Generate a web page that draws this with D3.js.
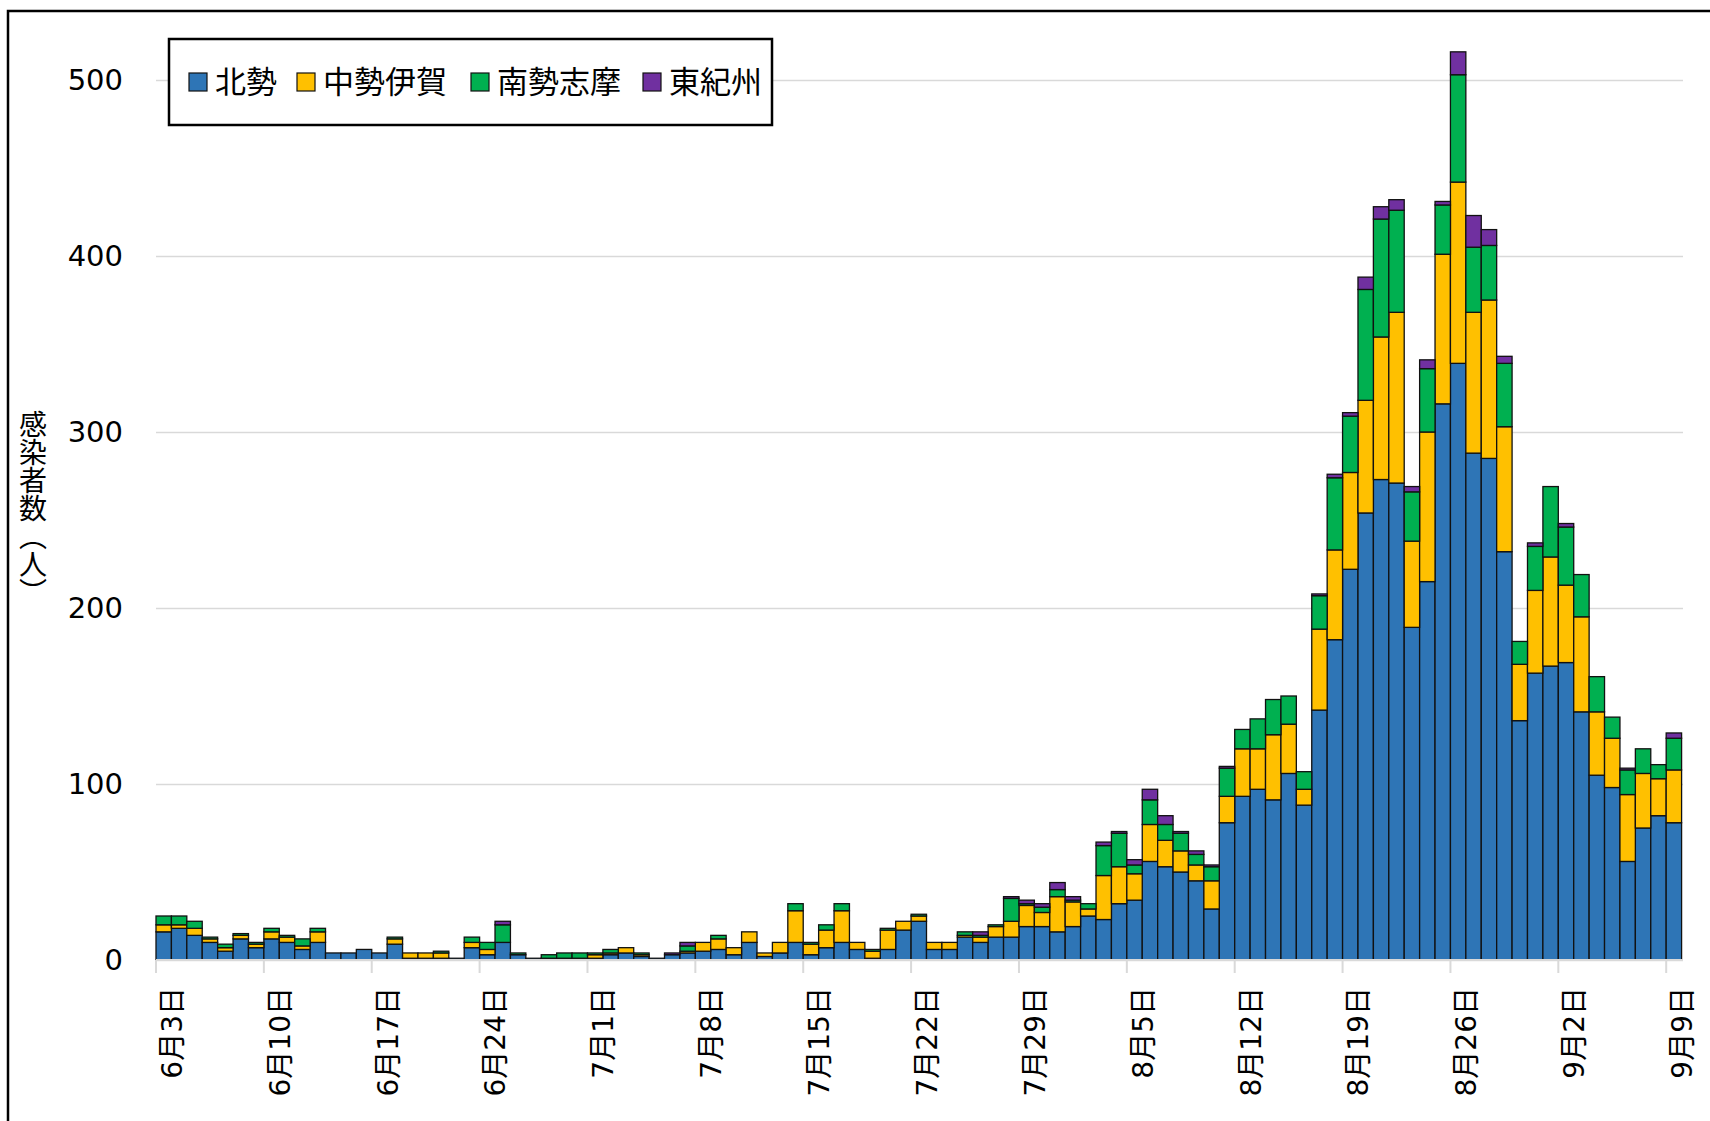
<!DOCTYPE html>
<head>
  <meta charset="utf-8">
  <script src="https://d3js.org/d3.v7.min.js"></script>
  <style>
    body { margin:0; background:#fff; }
    text { font-family: "DejaVu Sans", "Noto Sans CJK JP", sans-serif; fill:#000; }
    .grid line { stroke:#d9d9d9; stroke-width:1.5px; }
  </style>
</head>

<body>
  <script>
    // daily new cases per region, Jun 3 .. Sep 9
    var hokusei = [16,18,14,10,5,12,7,12,10,6,10,4,4,6,4,9,1,1,1,1,7,3,10,3,1,1,1,0,
                   1,3,4,2,1,3,4,5,6,3,10,2,4,10,3,7,10,6,1,6,17,22,6,6,13,10,13,13,19,19,16,
                   19,25,23,32,34,56,53,50,45,29,78,93,97,91,106,88,142,182,222,254,273,271,189,215,316,339,288,285,232,136,163,
                   167,169,141,105,98,56,75,82,78];
    var chusei = [4,2,4,2,2,2,2,4,3,2,6,0,0,0,0,3,3,3,3,0,3,3,0,0,0,0,0,1,
                  2,1,3,1,0,0,1,5,6,4,6,2,6,18,6,10,18,4,4,11,5,3,4,4,1,3,6,9,12,8,20,
                  14,4,25,21,15,21,15,12,9,16,15,27,23,37,28,9,46,51,55,64,81,97,49,85,85,103,80,90,71,32,47,
                  62,44,54,36,28,38,31,21,30];
    var nansei = [5,5,4,1,2,1,1,2,1,4,2,0,0,0,0,1,0,0,1,0,3,4,10,1,0,2,3,3,
                  1,2,0,1,0,0,3,0,2,0,0,0,0,4,1,3,4,0,1,1,0,1,0,0,2,1,1,13,1,3,4,
                  1,3,17,19,5,14,9,10,6,8,16,11,17,20,16,10,19,41,32,63,67,58,28,36,28,61,37,31,36,13,25,
                  40,33,24,20,12,14,14,8,18];
    var higashi = [0,0,0,0,0,0,0,0,0,0,0,0,0,0,0,0,0,0,0,0,0,0,2,0,0,0,0,0,
                   0,0,0,0,0,1,2,0,0,0,0,0,0,0,0,0,0,0,0,0,0,0,0,0,0,2,0,1,2,2,4,
                   2,0,2,1,3,6,5,1,2,1,1,0,0,0,0,0,1,2,2,7,7,6,3,5,2,13,18,9,4,0,2,
                   0,2,0,0,0,1,0,0,3];

    var seriesNames = ["北勢", "中勢伊賀", "南勢志摩", "東紀州"];
    var seriesColors = ["#2e75b6", "#ffc000", "#00b050", "#7030a0"];
    var yTicks = [0, 100, 200, 300, 400, 500];
    var tickLabels = ["6月3日","6月10日","6月17日","6月24日","7月1日","7月8日","7月15日",
                      "7月22日","7月29日","8月5日","8月12日","8月19日","8月26日","9月2日","9月9日"];

    var days = d3.timeDay.range(new Date(2021, 5, 3), new Date(2021, 8, 10));

    var rows = days.map(function(d, i) {
      return { i: i, "北勢": hokusei[i], "中勢伊賀": chusei[i], "南勢志摩": nansei[i], "東紀州": higashi[i] };
    });

    var W = 1710, H = 1121;
    var svg = d3.select("body").append("svg")
        .attr("width", W)
        .attr("height", H);

    svg.append("rect").attr("width", W).attr("height", H).attr("fill", "#fff");

    // outer frame (only top/left visible)
    svg.append("rect")
        .attr("x", 8).attr("y", 11)
        .attr("width", W + 10).attr("height", H + 10)
        .attr("fill", "none").attr("stroke", "#000").attr("stroke-width", 2.5);

    var x = d3.scaleBand()
        .domain(d3.range(days.length))
        .range([156, 156 + 15.41 * days.length])
        .padding(0);

    var y = d3.scaleLinear().domain([0, 500]).range([960, 80]);

    // gridlines + y labels
    var yAxis = svg.append("g")
        .attr("class", "grid")
        .attr("transform", "translate(156,0)")
        .call(d3.axisLeft(y).tickValues(yTicks).tickSize(-1527).tickPadding(33));
    yAxis.select(".domain").remove();
    yAxis.selectAll("text")
        .style("font-size", "29px")
        .style("font-family", "'DejaVu Sans', sans-serif");
    yAxis.selectAll("line").attr("x1", 0);

    // bars
    var stack = d3.stack().keys(seriesNames);
    var layers = stack(rows);

    svg.append("g").selectAll("g")
      .data(layers).enter().append("g")
        .attr("fill", function(d, k) { return seriesColors[k]; })
      .selectAll("rect")
      .data(function(d) { return d.filter(function(p) { return p[1] > p[0]; }); })
      .enter().append("rect")
        .attr("x", function(d) { return x(d.data.i); })
        .attr("width", x.bandwidth())
        .attr("y", function(d) { return y(d[1]); })
        .attr("height", function(d) { return y(d[0]) - y(d[1]); })
        .attr("stroke", "#111")
        .attr("stroke-width", 1.3);

    // x axis baseline + ticks
    svg.append("line")
        .attr("x1", 156).attr("x2", 1683)
        .attr("y1", y(0)).attr("y2", y(0))
        .attr("stroke", "#d9d9d9").attr("stroke-width", 2);

    var tickIdx = tickLabels.map(function(t, k) { return k * 7; });

    svg.append("g").selectAll("line")
      .data(tickIdx).enter().append("line")
        .attr("x1", function(d) { return x(d); })
        .attr("x2", function(d) { return x(d); })
        .attr("y1", y(0)).attr("y2", y(0) + 13)
        .attr("stroke", "#d9d9d9").attr("stroke-width", 2);

    svg.append("g").selectAll("text")
      .data(tickIdx).enter().append("text")
        .attr("transform", function(d) { return "translate(" + (x(d) + 16) + ",987) rotate(-90)"; })
        .attr("text-anchor", "end")
        .attr("dy", "0.35em")
        .style("font-size", "28px")
        .text(function(d, k) { return tickLabels[k]; });

    // y title, vertical writing
    svg.append("text")
        .attr("x", 33).attr("y", 508)
        .attr("text-anchor", "middle")
        .attr("writing-mode", "tb")
        .style("writing-mode", "vertical-rl")
        .style("font-size", "28px")
        .style("font-family", "'Noto Sans CJK JP', sans-serif")
        .text("感染者数（人）");

    // legend
    svg.append("rect")
        .attr("x", 169).attr("y", 39).attr("width", 603).attr("height", 86)
        .attr("fill", "#fff").attr("stroke", "#000").attr("stroke-width", 2.5);

    var legX = [189, 297, 471, 643];
    var leg = svg.append("g").selectAll("g")
      .data(seriesNames).enter().append("g")
        .attr("transform", function(d, k) { return "translate(" + legX[k] + ",82)"; });
    leg.append("rect")
        .attr("x", 0).attr("y", -9).attr("width", 18).attr("height", 18)
        .attr("fill", function(d, k) { return seriesColors[k]; })
        .attr("stroke", "#111").attr("stroke-width", 1.2);
    leg.append("text")
        .attr("x", 26).attr("dy", "0.35em")
        .style("font-size", "31px")
        .style("font-family", "'Noto Sans CJK JP', sans-serif")
        .text(function(d) { return d; });
  </script>
</body>
